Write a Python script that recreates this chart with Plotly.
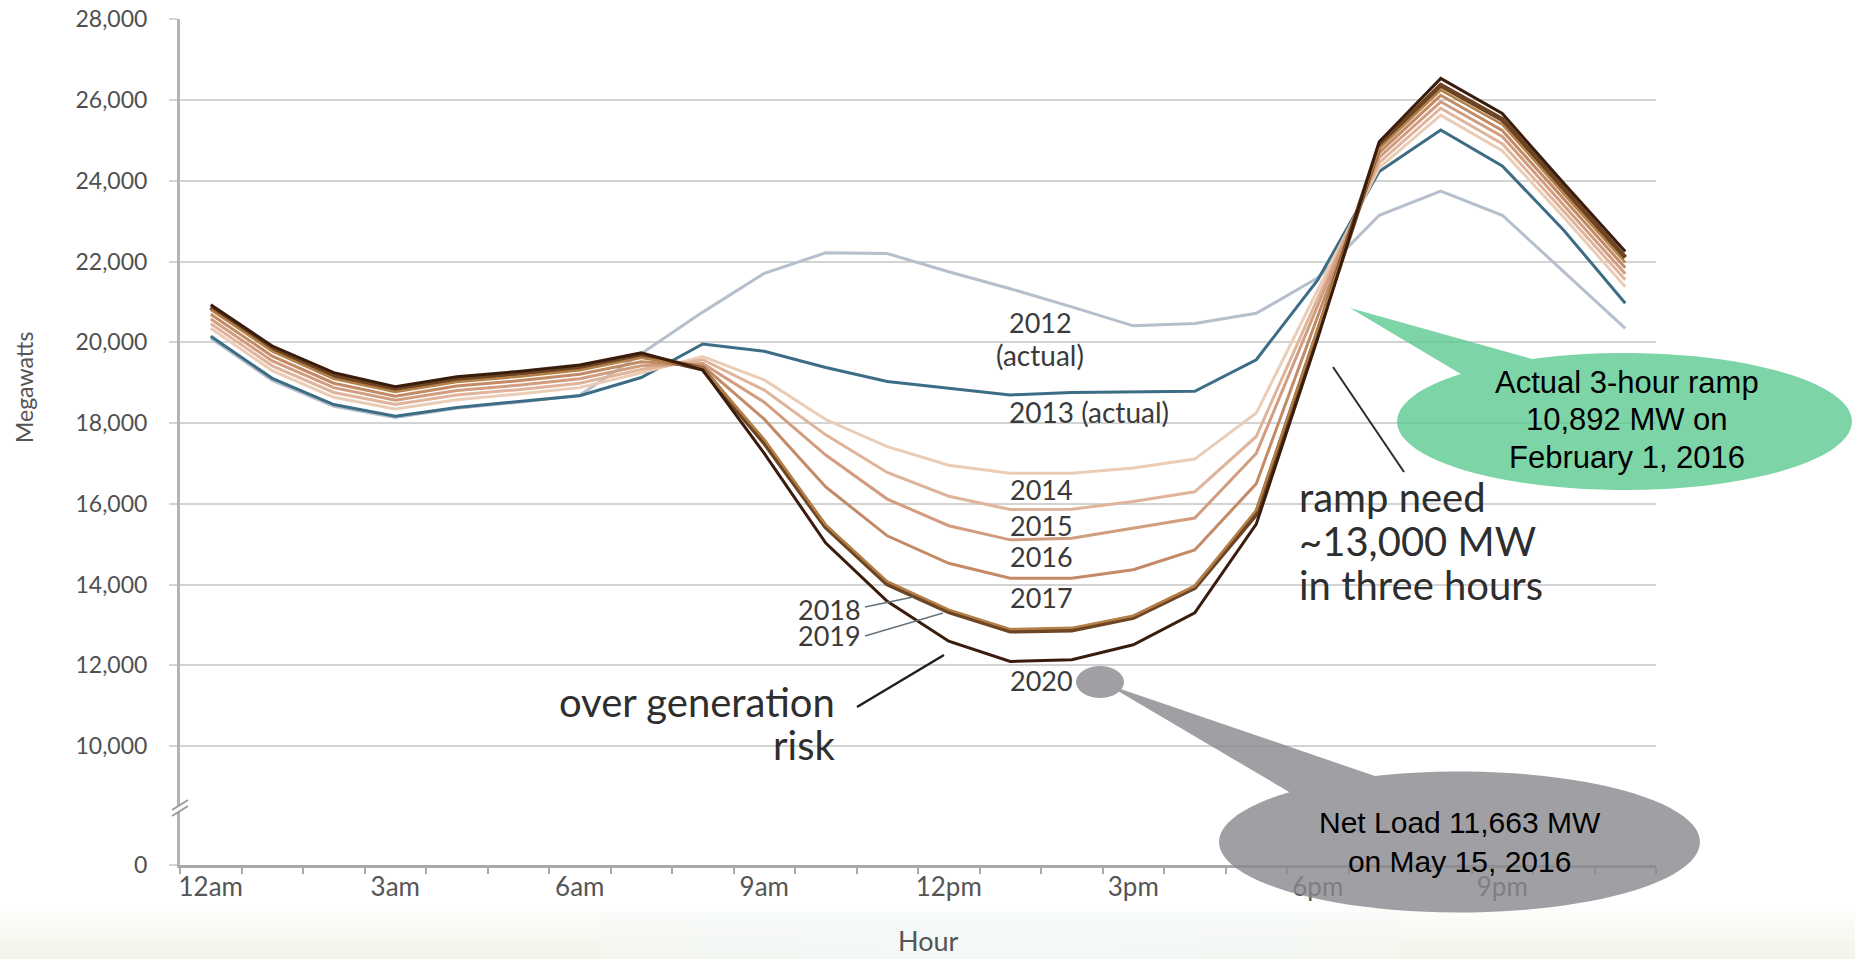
import math
import plotly.graph_objects as go

# ---------------- data ----------------
HOURS = list(range(24))
HOUR_TICKS = [0, 3, 6, 9, 12, 15, 18, 21]
HOUR_LABELS = ["12am", "3am", "6am", "9am", "12pm", "3pm", "6pm", "9pm"]

# axis is broken between 0 and 10,000: the "0" tick sits at the bottom of the range
Y_TICKS = [7057, 10000, 12000, 14000, 16000, 18000, 20000, 22000, 24000, 26000, 28000]
Y_LABELS = ["0", "10,000", "12,000", "14,000", "16,000", "18,000", "20,000",
            "22,000", "24,000", "26,000", "28,000"]

y2012 = [20100, 19060, 18420, 18140, 18370, 18520, 18690, 19720, 20750, 21710, 22220, 22200,
         21750, 21330, 20880, 20410, 20470, 20720, 21600, 23150, 23750, 23150, 21750, 20350]
y2013 = [20150, 19110, 18460, 18170, 18390, 18540, 18680, 19130, 19960, 19780, 19380, 19030,
         18870, 18700, 18760, 18780, 18790, 19570, 21550, 24230, 25260, 24370, 22780, 20970]
y2014 = [20350, 19300, 18640, 18350, 18580, 18720, 18880, 19250, 19650, 19070, 18090, 17420,
         16960, 16760, 16760, 16890, 17110, 18250, 21300, 24330, 25630, 24750, 23100, 21380]
y2015 = [20460, 19420, 18760, 18460, 18700, 18830, 18990, 19330, 19570, 18820, 17710, 16780,
         16190, 15860, 15870, 16060, 16300, 17670, 21100, 24450, 25800, 24920, 23250, 21550]
y2016 = [20580, 19540, 18880, 18570, 18810, 18940, 19100, 19420, 19480, 18520, 17210, 16120,
         15460, 15110, 15150, 15400, 15650, 17250, 20900, 24580, 25960, 25100, 23400, 21700]
y2017 = [20700, 19660, 18990, 18670, 18920, 19050, 19210, 19520, 19420, 18100, 16420, 15210,
         14530, 14160, 14160, 14370, 14860, 16500, 20650, 24700, 26120, 25250, 23550, 21850]
y2018 = [20810, 19780, 19100, 18770, 19020, 19150, 19310, 19620, 19360, 17600, 15480, 14080,
         13380, 12900, 12930, 13230, 13970, 15850, 20350, 24800, 26250, 25400, 23680, 21980]
y2019 = [20870, 19850, 19180, 18840, 19090, 19220, 19380, 19690, 19340, 17520, 15430, 14020,
         13330, 12850, 12880, 13190, 13930, 15750, 20250, 24880, 26370, 25520, 23800, 22100]
y2020 = [20930, 19910, 19250, 18900, 19150, 19280, 19440, 19740, 19320, 17250, 15030, 13590,
         12600, 12100, 12140, 12510, 13300, 15500, 20100, 24970, 26540, 25670, 23940, 22250]

SERIES = [
    ("2012", y2012, "#b6bfcc", 3),
    ("2013", y2013, "#3d6d86", 3),
    ("2014", y2014, "#ebcdb6", 3),
    ("2015", y2015, "#dfb49a", 3),
    ("2016", y2016, "#d29d7f", 3),
    ("2017", y2017, "#c38a66", 3),
    ("2019", y2019, "#6e4524", 5),
    ("2018", y2018, "#b48048", 2.5),
    ("2020", y2020, "#3a1c0c", 3),
]

# ---------------- geometry ----------------
FIG_W, FIG_H = 1855, 959
L, R, T, B = 180, 1656, 19, 865          # plot area in page pixels
PW, PH = R - L, B - T


def px(x):
    return (x - L) / PW


def py(y):
    return (B - y) / PH


fig = go.Figure()
for name, vals, color, width in SERIES:
    fig.add_trace(go.Scatter(x=HOURS, y=vals, mode="lines", name=name,
                             line=dict(color=color, width=width),
                             hoverinfo="x+y+name"))

FONT = "Lato"
ann = []


def note(text, x, y, size, xanchor="center", color="#3a3a3a", family=FONT, angle=0,
         height=None):
    d = dict(text=text, x=px(x), y=py(y), xref="paper", yref="paper",
             xanchor=xanchor, yanchor="middle", showarrow=False,
             textangle=angle, font=dict(family=family, size=size, color=color))
    if height is not None:
        d["height"] = height
    ann.append(d)


# year labels
note("2012", 1040, 322, 27)
note("(actual)", 1040, 355, 28)
note("2013 (actual)", 1007, 412, 28, xanchor="left")
note("2014", 1008, 489, 27, xanchor="left")
note("2015", 1008, 525, 27, xanchor="left")
note("2016", 1008, 557, 27, xanchor="left")
note("2017", 1008, 597, 27, xanchor="left")
note("2020", 1008, 680, 27, xanchor="left")
note("2018", 863, 609, 27, xanchor="right", height=24)
note("2019", 863, 635, 27, xanchor="right", height=24)
# commentary
note("over generation", 837, 702, 40, xanchor="right", color="#2e2e2e")
note("risk", 837, 745, 40, xanchor="right", color="#2e2e2e")
note("ramp need", 1297, 497, 40, xanchor="left", color="#2e2e2e")
note("~13,000 MW", 1297, 541, 40, xanchor="left", color="#2e2e2e")
note("in three hours", 1297, 585, 40, xanchor="left", color="#2e2e2e")
# callout texts
CF = "Liberation Sans"
note("Actual 3-hour ramp", 1627, 383, 31, color="#000000", family=CF)
note("10,892 MW on", 1627, 420, 31, color="#000000", family=CF)
note("February 1, 2016", 1627, 457, 31, color="#000000", family=CF)
note("Net Load 11,663 MW<br>on May 15, 2016", 1460, 842, 30, color="#000000", family=CF)
# axis titles
note("Megawatts", 24, 388, 23, color="#555555", angle=-90)
note("Hour", 928, 941, 27, color="#555555")

shapes = []


def line(x0, y0, x1, y1, color="#2b2b2b", width=2):
    shapes.append(dict(type="line", xref="paper", yref="paper",
                       x0=px(x0), y0=py(y0), x1=px(x1), y1=py(y1),
                       line=dict(color=color, width=width), layer="above"))


line(865, 607, 913, 597, color="#66727c", width=1.5)
line(865, 636, 943, 613, color="#66727c", width=1.5)
line(857, 707, 944, 655, color="#1e1e1e", width=2.5)
line(1333, 367, 1404, 472, color="#2b2b2b", width=2)


def bubble(cx, cy, rx, ry, a_start, a_end, tip, n=90):
    pts = []
    for i in range(n + 1):
        a = math.radians(a_start + (a_end - a_start) * i / n)
        pts.append((cx + rx * math.cos(a), cy + ry * math.sin(a)))
    pts.append(tip)
    return "M " + " L ".join(f"{px(x):.5f},{py(y):.5f}" for x, y in pts) + " Z"


# green callout (ellipse + tail as one path)
shapes.append(dict(type="path", xref="paper", yref="paper",
                   path=bubble(1624.5, 421.5, 227.5, 68.5, 246, 584, (1350, 308)),
                   fillcolor="rgb(93,203,145)", opacity=0.8, line=dict(width=0),
                   layer="above"))
# gray callout
shapes.append(dict(type="path", xref="paper", yref="paper",
                   path=bubble(1459.5, 842, 240.5, 70.5, 249.4, 585, (1106, 684)),
                   fillcolor="rgb(136,136,141)", opacity=0.8, line=dict(width=0),
                   layer="above"))
shapes.append(dict(type="circle", xref="paper", yref="paper",
                   x0=px(1076), x1=px(1124), y0=py(698), y1=py(666),
                   fillcolor="rgb(160,160,164)", line=dict(width=0), layer="above"))

# axis break marks
shapes.append(dict(type="rect", xref="paper", yref="paper",
                   x0=px(176), x1=px(185), y0=py(812), y1=py(806),
                   fillcolor="white", line=dict(width=0), layer="above"))
line(172, 816, 188, 806, color="#9a9a9a", width=2)
line(172, 810, 188, 800, color="#9a9a9a", width=2)

# pale slide background band at the bottom (soft gradient)
for k in range(8):
    y0 = 905 + k * 7
    shapes.append(dict(type="rect", xref="paper", yref="paper",
                       x0=px(0), x1=px(FIG_W + 10), y0=py(y0 + 7), y1=py(y0),
                       fillcolor="#eceedd", opacity=0.1 + 0.08 * k,
                       line=dict(width=0), layer="below"))
for k, (xa, xb) in enumerate([(600, 1400), (700, 1300), (800, 1200), (880, 1120)]):
    shapes.append(dict(type="rect", xref="paper", yref="paper",
                       x0=px(xa), x1=px(xb), y0=py(960), y1=py(912 + 4 * k),
                       fillcolor="#f4f8fa", opacity=0.35,
                       line=dict(width=0), layer="below"))

fig.update_layout(
    width=FIG_W, height=FIG_H,
    margin=dict(l=L, r=FIG_W - R, t=T, b=FIG_H - B),
    paper_bgcolor="white", plot_bgcolor="white",
    showlegend=False,
    annotations=ann, shapes=shapes,
    xaxis=dict(range=[-0.5, 23.5], tickvals=HOUR_TICKS, ticktext=HOUR_LABELS,
               ticks="", showgrid=False, zeroline=False, automargin=False,
               showline=True, linecolor="#a9a9a9", linewidth=3,
               tickfont=dict(family=FONT, size=26, color="#555555"),
               ticklabelstandoff=-3, ticklabeloverflow="allow",
               minor=dict(tick0=-0.5, dtick=1, ticks="outside", ticklen=6,
                          tickcolor="#a9a9a9", tickwidth=2, showgrid=False)),
    yaxis=dict(range=[7057, 28010], tickvals=Y_TICKS, ticktext=Y_LABELS,
               showgrid=True, gridcolor="#d3d3d3", gridwidth=2, zeroline=False,
               automargin=False,
               showline=True, linecolor="#b3b3b3", linewidth=3,
               ticks="outside", ticklen=8, tickcolor="#d3d3d3", tickwidth=2,
               tickfont=dict(family=FONT, size=23, color="#505050"),
               ticklabelstandoff=17, ticklabeloverflow="allow"),
)

# remove the browser's default 8px body margin so the figure sits at the page origin
fig.write_html("out.html", config={"displayModeBar": False},
               post_script="document.body.style.margin='0';document.body.style.overflow='hidden';")
